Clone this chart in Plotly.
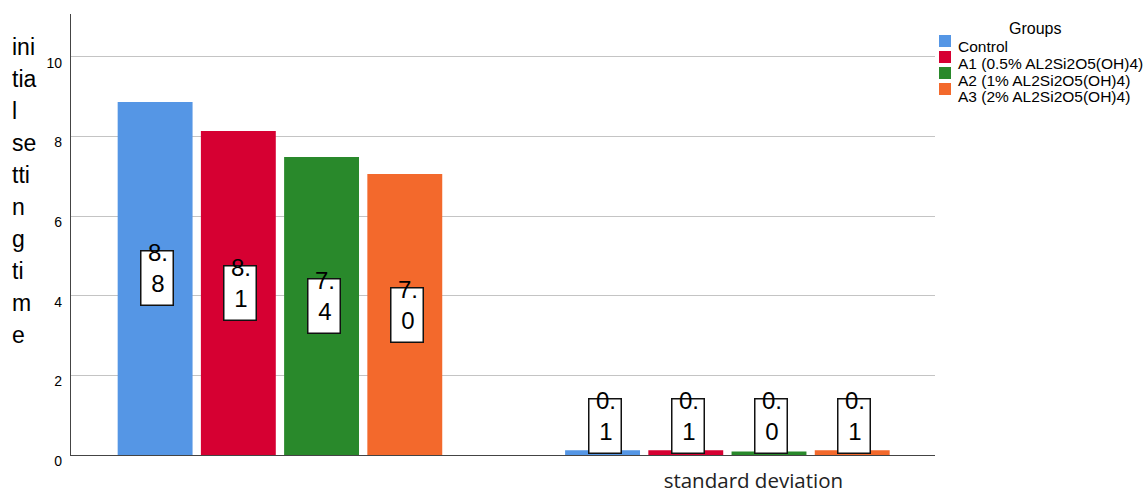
import math
import plotly.graph_objects as go

# ---- data ----
categories = ["", "standard deviation"]
groups = ["Control", "A1 (0.5% AL2Si2O5(OH)4)", "A2 (1% AL2Si2O5(OH)4)", "A3 (2% AL2Si2O5(OH)4)"]
mean_values = [8.87, 8.14, 7.49, 7.06]
sd_values = [0.12, 0.12, 0.09, 0.12]
y_title_chunks = ["ini", "tia", "l", "se", "tti", "n", "g", "ti", "m", "e"]
y_ticks = [0, 2, 4, 6, 8, 10]
legend_title = "Groups"

colors = ["#5596e5", "#d60032", "#29892b", "#f3692c"]

# ---- layout geometry ----
W, H = 1147, 490
L, R, T, B = 71, 935, 14, 455
plot_w, plot_h = R - L, B - T
ymax = 11.08
ppu = plot_h / ymax
xr = [-0.467, 1.464]
bargap, bargroupgap = 0.256, 0.1
slot = (1 - bargap) / len(groups)


def px2paper_x(px):
    return (px - L) / plot_w


def px2paper_y(py):
    return (B - py) / plot_h


def trunc_label(v):
    s = f"{math.floor(v * 10 + 1e-9) / 10:.1f}"
    return s[:2] + "<br>" + s[2:]


fig = go.Figure()
xpos = list(range(len(categories)))
for i, g in enumerate(groups):
    fig.add_trace(go.Bar(
        x=xpos, y=[mean_values[i], sd_values[i]], name=g,
        marker=dict(color=colors[i], line=dict(width=0)),
        showlegend=False,
    ))

annotations = []
shapes = []
box_w, box_h = 31, 53
for i in range(len(groups)):
    for ci, v in enumerate([mean_values[i], sd_values[i]]):
        xc = ci + (i - (len(groups) - 1) / 2) * slot
        yc = max(v / 2, (box_h / 2 + 3) / ppu)
        annotations.append(dict(
            x=xc, y=yc, xref="x", yref="y", text=" ", showarrow=False,
            width=box_w, height=box_h, bgcolor="white", bordercolor="#111",
            borderwidth=1.5, borderpad=0, xshift=2, xanchor="center", yanchor="middle",
        ))
        annotations.append(dict(
            x=xc, y=yc, xref="x", yref="y", text=trunc_label(v), showarrow=False,
            font=dict(family="Liberation Sans, Arial", size=24, color="black"),
            xshift=3, yshift=10, xanchor="center", yanchor="middle",
        ))

# y-axis title chunks
for k, ch in enumerate(y_title_chunks):
    annotations.append(dict(
        x=px2paper_x(10), y=px2paper_y(47 + 32 * k), xref="paper", yref="paper",
        text=ch, showarrow=False, xanchor="left", yanchor="middle",
        font=dict(family="Liberation Sans, Arial", size=23, color="black"),
    ))

# manual legend
annotations.append(dict(
    x=px2paper_x(1035), y=px2paper_y(28), xref="paper", yref="paper",
    text=legend_title, showarrow=False, xanchor="center", yanchor="middle",
    font=dict(family="Liberation Sans, Arial", size=16, color="black"),
))
for i, g in enumerate(groups):
    top = 35 + 16 * i
    shapes.append(dict(
        type="rect", xref="paper", yref="paper",
        x0=px2paper_x(939), x1=px2paper_x(951),
        y0=px2paper_y(top), y1=px2paper_y(top + 12),
        fillcolor=colors[i], line=dict(width=0),
    ))
    annotations.append(dict(
        x=px2paper_x(956), y=px2paper_y(46.7 + 16.7 * i), xref="paper", yref="paper",
        text=g, showarrow=False, xanchor="left", yanchor="middle",
        font=dict(family="Liberation Sans, Arial", size=15.5, color="black"),
    ))

fig.update_layout(
    width=W, height=H,
    margin=dict(l=L, r=W - R, t=T, b=H - B, pad=0),
    paper_bgcolor="white", plot_bgcolor="white",
    barmode="group", bargap=bargap, bargroupgap=bargroupgap,
    annotations=annotations, shapes=shapes,
    xaxis=dict(
        range=xr, tickvals=xpos, ticktext=categories, showgrid=False, zeroline=False,
        showline=True, linecolor="#444", linewidth=1.2, ticks="", automargin=False,
        tickfont=dict(family="Open Sans", size=20.5, color="#222"),
        ticklabelshift=26, ticklabelstandoff=7,
    ),
    yaxis=dict(
        range=[0, ymax], tickvals=y_ticks, showgrid=True, gridcolor="#c4c4c4", gridwidth=1.3,
        zeroline=False, showline=True, linecolor="#444", linewidth=1.2, ticks="", automargin=False,
        tickfont=dict(family="Liberation Sans, Arial", size=14, color="black"),
        ticklabelshift=6, ticklabelstandoff=5,
    ),
)

fig.write_html("out.html")
